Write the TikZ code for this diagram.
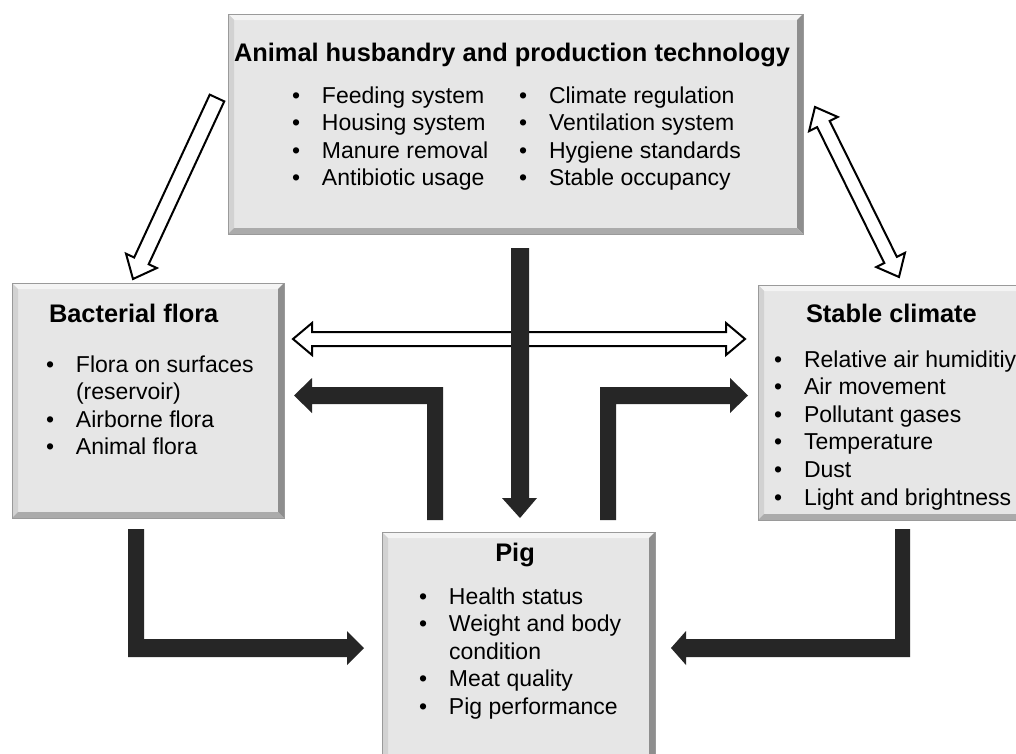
\documentclass[tikz,border=0pt]{standalone}
\usepackage{fontspec}
\setmainfont{Liberation Sans}
\usetikzlibrary{calc}
\definecolor{boxfill}{HTML}{E6E6E6}
\definecolor{bevtop}{HTML}{F4F4F4}
\definecolor{bevleft}{HTML}{D2D2D2}
\definecolor{bevright}{HTML}{8E8E8E}
\definecolor{bevbottom}{HTML}{ABABAB}
\definecolor{bevline}{HTML}{9A9A9A}
\definecolor{arrowdark}{HTML}{262626}
\newcommand{\bodyfont}{\fontsize{23}{27.6}\selectfont}
\newcommand{\titlefont}{\fontsize{25.4}{30}\selectfont\bfseries}
\newcommand{\blist}[1]{{\bodyfont\begin{tabular}[t]{@{}p{30pt}@{}l@{}}#1\end{tabular}}}
\newcommand{\bevelbox}[1]{%
  \fill[bevtop] (#1.north west) -- (#1.north east) -- ($(#1.north east)+(-6,6)$) -- ($(#1.north west)+(6,6)$) -- cycle;
  \fill[bevleft] (#1.north west) -- (#1.south west) -- ($(#1.south west)+(6,-6)$) -- ($(#1.north west)+(6,6)$) -- cycle;
  \fill[bevright] (#1.north east) -- (#1.south east) -- ($(#1.south east)+(-6,-6)$) -- ($(#1.north east)+(-6,6)$) -- cycle;
  \fill[bevbottom] (#1.south west) -- (#1.south east) -- ($(#1.south east)+(-6,-6)$) -- ($(#1.south west)+(6,-6)$) -- cycle;
  \draw[bevline, line width=1pt] (#1.north west) rectangle (#1.south east);
}
\newcommand{\hollowsingle}[2]{%
  \coordinate (hb) at ($(#2)!20pt!(#1)$);
  \draw[hollow] ($(#1)!8pt!90:(#2)$) -- ($(hb)!8pt!-90:(#1)$) -- ($(hb)!17pt!-90:(#1)$) -- (#2)
    -- ($(hb)!17pt!90:(#1)$) -- ($(hb)!8pt!90:(#1)$) -- ($(#1)!8pt!-90:(#2)$) -- cycle;}
\newcommand{\hollowdouble}[2]{%
  \coordinate (hbB) at ($(#2)!19pt!(#1)$);
  \coordinate (hbA) at ($(#1)!19pt!(#2)$);
  \draw[hollow] (#1) -- ($(hbA)!16pt!90:(#2)$) -- ($(hbA)!7pt!90:(#2)$) -- ($(hbB)!7pt!-90:(#1)$)
    -- ($(hbB)!16pt!-90:(#1)$) -- (#2) -- ($(hbB)!16pt!90:(#1)$) -- ($(hbB)!7pt!90:(#1)$)
    -- ($(hbA)!7pt!-90:(#2)$) -- ($(hbA)!16pt!-90:(#2)$) -- cycle;}
\tikzset{
  box/.style={fill=boxfill, inner sep=0pt, outer sep=0pt},
  hollow/.style={fill=white, draw=black, line width=2pt, line join=miter},
  darkarrow/.style={fill=arrowdark},
  txt/.style={inner sep=0pt, outer sep=0pt, text=black}
}
\begin{document}
\begin{tikzpicture}[x=1pt,y=-1pt]
\useasboundingbox (0,0) rectangle (1016,753);
\clip (0,0) rectangle (1016,753);
\fill[white] (0,0) rectangle (1016,753);

% boxes
\node[box, minimum width=575pt, minimum height=220pt] (husb) at (515.5,124) {};
\node[box, minimum width=272pt, minimum height=235pt] (flora) at (148,400.5) {};
\node[box, minimum width=272pt, minimum height=235pt] (climate) at (894,402.5) {};
\node[box, minimum width=273pt, minimum height=235pt] (pig) at (518.5,649.5) {};
\bevelbox{husb}
\bevelbox{flora}
\bevelbox{climate}
\bevelbox{pig}

% texts
\node[txt, anchor=base] (husbT) at (512,61) {\titlefont Animal husbandry and production technology};
\node[txt, anchor=base west] (husbL1) at (292,103) {\blist{• & Feeding system\\ • & Housing system\\ • & Manure removal\\ • & Antibiotic usage}};
\node[txt, anchor=base west] (husbL2) at (519,103) {\blist{• & Climate regulation\\ • & Ventilation system\\ • & Hygiene standards\\ • & Stable occupancy}};

\node[txt, anchor=base west] (floraT) at (49,322) {\titlefont Bacterial flora};
\node[txt, anchor=base west] (floraL) at (46,372) {\blist{• & Flora on surfaces\\ & (reservoir)\\ • & Airborne flora\\ • & Animal flora}};

\node[txt, anchor=base west] (climT) at (806,322) {\titlefont Stable climate};
\node[txt, anchor=base west] (climL) at (774,367) {\blist{• & Relative air humiditiy\\ • & Air movement\\ • & Pollutant gases\\ • & Temperature\\ • & Dust\\ • & Light and brightness}};

\node[txt, anchor=base] (pigT) at (515,561) {\titlefont Pig};
\node[txt, anchor=base west] (pigL) at (419,604) {\blist{• & Health status\\ • & Weight and body\\ & condition\\ • & Meat quality\\ • & Pig performance}};

% hollow arrows
\coordinate (tlA) at (217,98);
\coordinate (tlB) at (133,279);
\coordinate (trA) at (815,107);
\coordinate (trB) at (899,277);
\coordinate (hA) at (293,339);
\coordinate (hB) at (745,339);
\hollowsingle{tlA}{tlB}
\hollowdouble{trA}{trB}
\hollowdouble{hA}{hB}

% dark block arrows
\fill[darkarrow] (511,248) -- (529,248) -- (529,498) -- (537,498) -- (520,518) -- (502,498) -- (511,498) -- cycle;
\fill[darkarrow] (443,520) -- (443,387) -- (312,387) -- (312,378) -- (294,395.5) -- (312,413) -- (312,404) -- (427,404) -- (427,520) -- cycle;
\fill[darkarrow] (600,520) -- (600,387) -- (730,387) -- (730,378) -- (748,395.5) -- (730,413) -- (730,404) -- (616,404) -- (616,520) -- cycle;
\fill[darkarrow] (128,529) -- (144,529) -- (144,639) -- (347,639) -- (347,631) -- (364,648) -- (347,665) -- (347,657) -- (128,657) -- cycle;
\fill[darkarrow] (910,529) -- (895,529) -- (895,639) -- (686,639) -- (686,631) -- (671,648) -- (686,665) -- (686,657) -- (910,657) -- cycle;
\end{tikzpicture}
\end{document}
